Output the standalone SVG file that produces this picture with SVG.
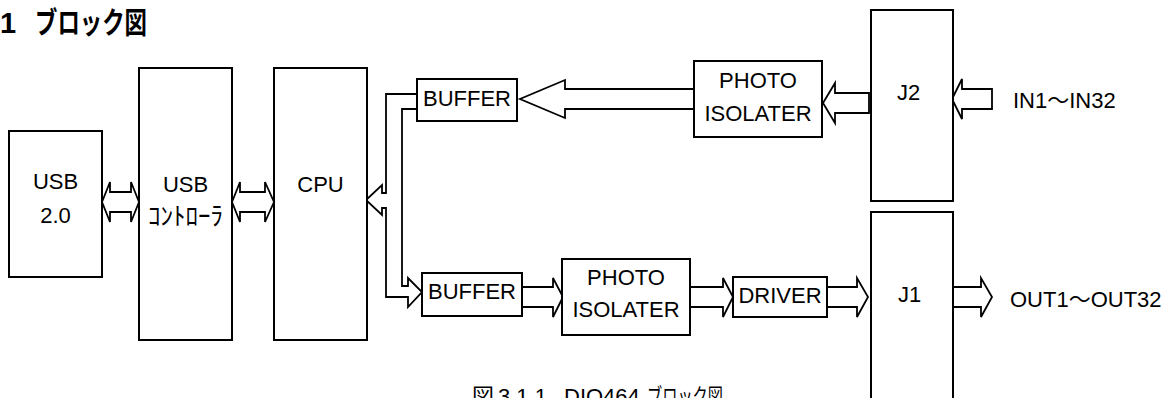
<svg xmlns="http://www.w3.org/2000/svg" width="1175" height="398" viewBox="0 0 1175 398">
<style>
.box{fill:#fff;stroke:#000;stroke-width:2}
.arr{fill:#fff;stroke:#000;stroke-width:1.8;stroke-linejoin:miter}
.t{font-family:"Liberation Sans","Noto Sans CJK JP",sans-serif;font-size:22px;fill:#000}
.c{text-anchor:middle}
.jp{font-family:"Noto Sans CJK JP",sans-serif;fill:#000}
</style>
<rect width="1175" height="398" fill="#fff"/>
<g id="title">
<text x="0" y="33" font-family="Liberation Sans, sans-serif" font-weight="bold" font-size="29">1</text>
<text x="35" y="33" class="jp" font-weight="bold" font-size="30" textLength="112" lengthAdjust="spacingAndGlyphs">ブロック図</text>
</g>
<g id="connectors">
<polygon class="arr" points="102,202 110,182 110,192 131,192 131,182 139,202 131,222 131,212 110,212 110,222"/>
<polygon class="arr" points="232,202 240,182 240,192 265,192 265,182 274,202 265,222 265,212 240,212 240,222"/>
<polygon class="arr" points="417,94 386,94 386,193 382,193 382,185 366,200 382,215 382,208 386,208 386,297 408,297 408,307 422,292 408,278 408,286 402,286 402,109 417,109"/>
<polygon class="arr" points="694,89 565,89 565,80 520,99 565,118 565,109 694,109"/>
<polygon class="arr" points="869,93 835,93 835,83 823,103 835,123 835,113 869,113"/>
<polygon class="arr" points="952,99 962,79 962,89 992,89 992,109 962,109 962,119"/>
<polygon class="arr" points="522,287 553,287 553,278 563,297 553,317 553,307 522,307"/>
<polygon class="arr" points="690,287 723,287 723,278 733,297 723,317 723,307 690,307"/>
<polygon class="arr" points="827,287 857,287 857,278 868,297 857,317 857,307 827,307"/>
<polygon class="arr" points="953,287 981,287 981,278 992,297 981,317 981,307 953,307"/>
</g>
<g id="usb20">
<rect class="box" x="9" y="131" width="93" height="146"/>
<text class="t c" x="55.5" y="189">USB</text>
<text class="t c" x="55.5" y="223">2.0</text>
</g>
<g id="usbctrl">
<rect class="box" x="139" y="68" width="93" height="272"/>
<text class="t c" x="185.5" y="192">USB</text>
<text class="jp c" x="185.5" y="225" font-size="25">ｺﾝﾄﾛｰﾗ</text>
</g>
<g id="cpu">
<rect class="box" x="274" y="68" width="93" height="272"/>
<text class="t c" x="320.5" y="192">CPU</text>
</g>
<g id="buffer1">
<rect class="box" x="417" y="79" width="100" height="42"/>
<text class="t c" x="467" y="106">BUFFER</text>
</g>
<g id="photo1">
<rect class="box" x="694" y="61" width="128" height="76"/>
<text class="t c" x="758" y="88">PHOTO</text>
<text class="t c" x="758" y="121">ISOLATER</text>
</g>
<g id="j2">
<rect class="box" x="871" y="10" width="82" height="191"/>
<text class="t" x="897" y="100">J2</text>
</g>
<g id="in">
<text class="t" x="1013" y="108">IN1～IN32</text>
</g>
<g id="buffer2">
<rect class="box" x="422" y="273" width="100" height="43"/>
<text class="t c" x="472" y="299">BUFFER</text>
</g>
<g id="photo2">
<rect class="box" x="562" y="259" width="128" height="76"/>
<text class="t c" x="626" y="285">PHOTO</text>
<text class="t c" x="626" y="317">ISOLATER</text>
</g>
<g id="driver">
<rect class="box" x="733" y="277" width="94" height="40"/>
<text class="t c" x="780" y="303">DRIVER</text>
</g>
<g id="j1">
<rect class="box" x="871" y="212" width="82" height="200"/>
<text class="t" x="898" y="302">J1</text>
</g>
<g id="out">
<text class="t" x="1010" y="307">OUT1～OUT32</text>
</g>
<g id="caption">
<text class="t" y="404" font-size="21"><tspan x="472">図</tspan><tspan x="498">3.1.1</tspan><tspan x="564">DIO464</tspan><tspan x="647" textLength="76" lengthAdjust="spacingAndGlyphs">ブロック図</tspan></text>
</g>
</svg>
